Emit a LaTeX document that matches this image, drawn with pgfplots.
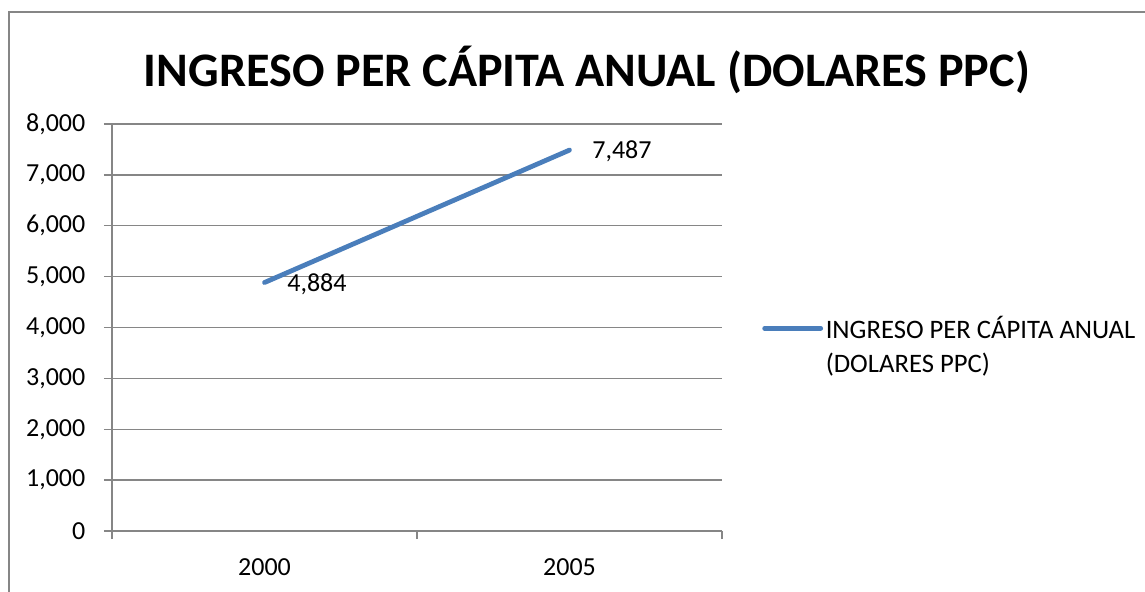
\documentclass[border=0pt]{standalone}
\usepackage{pgfplots}
\pgfplotsset{compat=1.18}
\usepackage{fontspec}
\setmainfont{Carlito}
\definecolor{linecol}{HTML}{4A7EBB}
\definecolor{gridcol}{HTML}{868686}
\newcommand{\lblfont}{\fontsize{19.5}{25.5}\selectfont}
\newcommand{\legfont}{\fontsize{20}{25.5}\selectfont}
\begin{document}
\begin{tikzpicture}[x=0.75pt,y=0.75pt]
\path[use as bounding box] (0,0) rectangle (1145,592);
\draw[gridcol,line width=1.5pt] (9,0) -- (9,580) -- (1145,580);
\node[font=\fontsize{36.1}{42}\selectfont\bfseries] at (587,522) {INGRESO PER CÁPITA ANUAL (DOLARES PPC)};
\begin{axis}[
  at={(84pt,45.75pt)}, anchor=south west,
  scale only axis, width=457.5pt, height=305.25pt,
  xmin=-0.5, xmax=1.5, ymin=0, ymax=8000,
  axis lines*=left,
  axis line style={gridcol, line width=1pt},
  xtick={0,1}, xticklabels={2000,2005},
  minor xtick={-0.5,0.5,1.5},
  major x tick style={draw=none},
  minor x tick style={gridcol, line width=1pt},
  minor tick length=6pt,
  ytick={0,1000,...,8000},
  major y tick style={gridcol, line width=1pt},
  major tick length=6pt,
  tick align=outside,
  ymajorgrids,
  grid style={gridcol, line width=1pt},
  scaled y ticks=false,
  /pgf/number format/.cd, 1000 sep={,}, assume math mode=true, /pgfplots/.cd,
  tick label style={font=\lblfont, text=black},
  x tick label style={yshift=-11pt},
  y tick label style={xshift=-10.5pt},
  nodes near coords,
  nodes near coords style={anchor=west, xshift=12pt, yshift=-1pt, font=\lblfont, text=black},
  legend style={at={(1.0656,0.535)}, anchor=north west, draw=none, fill=none,
    font=\legfont, cells={align=left}, inner sep=0pt},
  legend cell align=left,
  legend image code/.code={\draw[#1] (0pt,12.75pt) -- (42pt,12.75pt);},
]
\addplot[color=linecol, line width=3.6pt, line cap=round, mark=none] coordinates {(0,4884) (1,7487)};
\addlegendentry{INGRESO PER CÁPITA ANUAL\\(DOLARES PPC)}
\end{axis}
\end{tikzpicture}
\end{document}
